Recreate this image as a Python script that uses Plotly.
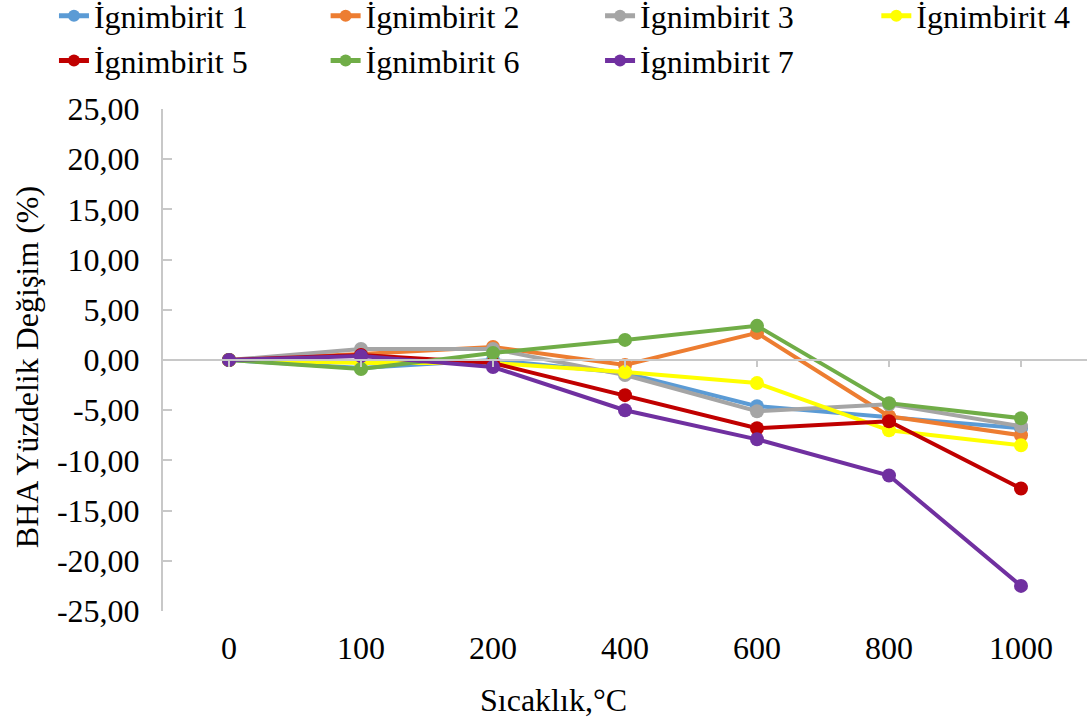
import plotly.graph_objects as go

temps = ["0", "100", "200", "400", "600", "800", "1000"]
names = ["İgnimbirit 1", "İgnimbirit 2", "İgnimbirit 3", "İgnimbirit 4",
         "İgnimbirit 5", "İgnimbirit 6", "İgnimbirit 7"]
ign1 = [0, -0.8, 0.0, -1.3, -4.6, -5.7, -6.8]
ign2 = [0, 0.6, 1.3, -0.5, 2.7, -5.6, -7.5]
ign3 = [0, 1.1, 1.1, -1.5, -5.1, -4.4, -6.6]
ign4 = [0, -0.3, -0.3, -1.2, -2.3, -7.0, -8.5]
ign5 = [0, 0.5, -0.3, -3.5, -6.8, -6.1, -12.8]
ign6 = [0, -0.9, 0.7, 2.0, 3.4, -4.3, -5.8]
ign7 = [0, 0.4, -0.7, -5.0, -7.9, -11.5, -22.5]
y_ticks = [-25, -20, -15, -10, -5, 0, 5, 10, 15, 20, 25]
y_ticktext = [f"{v:.2f}".replace(".", ",") for v in y_ticks]
colors = ["#5B9BD5", "#ED7D31", "#A5A5A5", "#FFFF00", "#C00000", "#70AD47", "#7030A0"]
series = [ign1, ign2, ign3, ign4, ign5, ign6, ign7]

FONT = "Liberation Serif"
AXIS_COLOR = "#C8C8C8"

# legend column for each series (4 columns, 2 rows like the original)
legend_ids = ["legend", "legend2", "legend3", "legend4",
              "legend", "legend2", "legend3"]
legend_x = [-0.118, 0.176, 0.473, 0.772]

fig = go.Figure()
for name, vals, col, lg in zip(names, series, colors, legend_ids):
    fig.add_trace(go.Scatter(
        x=temps, y=vals, name=name, mode="lines+markers",
        line=dict(color=col, width=4),
        marker=dict(color=col, size=14),
        legend=lg,
    ))

legend_common = dict(
    orientation="v", xref="paper", yref="paper",
    y=1.24, xanchor="left", yanchor="top",
    bgcolor="rgba(0,0,0,0)",
    font=dict(family=FONT, size=32, color="black"),
    tracegroupgap=0, itemsizing="constant",
)

fig.update_layout(
    width=1091, height=723,
    margin=dict(l=163, r=4, t=109, b=112, autoexpand=False),
    plot_bgcolor="white", paper_bgcolor="white",
    font=dict(family=FONT, size=32, color="black"),
    showlegend=True,
    legend=dict(x=legend_x[0], **legend_common),
    legend2=dict(x=legend_x[1], **legend_common),
    legend3=dict(x=legend_x[2], **legend_common),
    legend4=dict(x=legend_x[3], **legend_common),
    xaxis=dict(
        type="category", categoryorder="array", categoryarray=temps,
        range=[-0.5, 6.5], showline=False, showgrid=False, zeroline=False,
        ticks="", ticklabelstandoff=15,
        tickfont=dict(family=FONT, size=32),
    ),
    xaxis2=dict(
        type="category", categoryorder="array", categoryarray=temps,
        matches="x", overlaying="x", anchor="free", position=0.5,
        showline=True, linecolor=AXIS_COLOR, linewidth=2,
        ticks="outside", ticklen=6, tickcolor=AXIS_COLOR, tickwidth=2,
        showticklabels=False, showgrid=False, zeroline=False,
    ),
    yaxis=dict(
        range=[-25, 25], tickmode="array", tickvals=y_ticks, ticktext=y_ticktext,
        showline=True, linecolor=AXIS_COLOR, linewidth=2,
        ticks="inside", ticklen=9, tickcolor=AXIS_COLOR, tickwidth=2,
        showgrid=False, zeroline=False, ticklabelstandoff=15,
        tickfont=dict(family=FONT, size=32),
    ),
    annotations=[
        dict(text="Sıcaklık,°C", xref="paper", yref="paper",
             x=0.423, y=-0.177, xanchor="center", yanchor="middle",
             showarrow=False,
             font=dict(family=FONT, size=32, color="black")),
        dict(text="BHA Yüzdelik Değişim (%)", xref="paper", yref="paper",
             x=-0.147, y=0.486, xanchor="center", yanchor="middle",
             showarrow=False, textangle=-90,
             font=dict(family=FONT, size=32, color="black")),
    ],
)

# invisible trace to anchor the zero-level category axis
fig.add_trace(go.Scatter(x=temps, y=[None] * len(temps), xaxis="x2",
                         showlegend=False, hoverinfo="skip", mode="lines"))

fig.write_html("out.html")
